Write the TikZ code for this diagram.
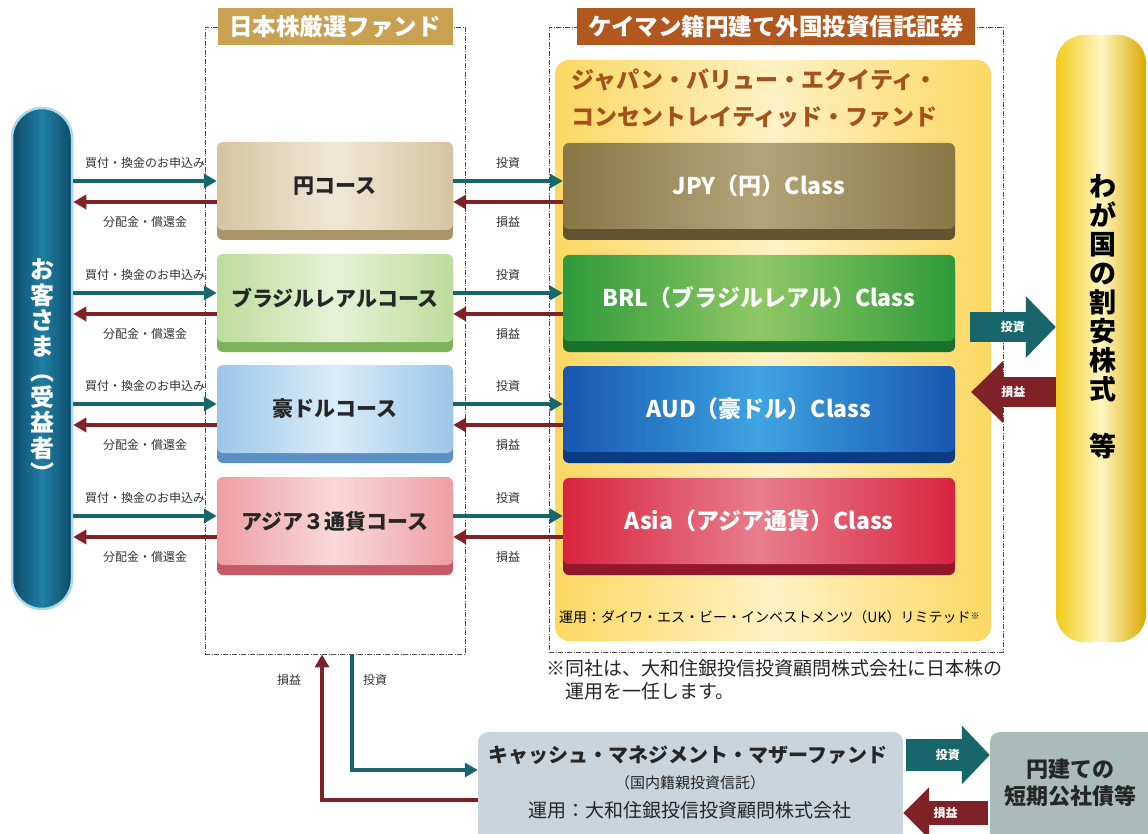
\documentclass[tikz,border=0pt]{standalone}
\usepackage{fontspec}
\setmainfont{Noto Sans CJK JP}
\usetikzlibrary{arrows.meta,shadows}
\definecolor{toushi}{HTML}{17666C}
\definecolor{soneki}{HTML}{7E2227}
\definecolor{tagGold}{HTML}{C8A152}
\definecolor{tagBrown}{HTML}{B2581F}
\definecolor{titleBrown}{HTML}{A4521C}
\definecolor{panelEdge}{HTML}{FCD862}
\definecolor{panelMid}{HTML}{FEF1C4}
\definecolor{custEdge}{HTML}{0E4A6B}
\definecolor{custMid}{HTML}{1F7FA3}
\definecolor{custRim}{HTML}{A9D8EA}
\definecolor{wagaLeft}{HTML}{F2CC1A}
\definecolor{wagaMid}{HTML}{FFF6C0}
\definecolor{wagaRight}{HTML}{D9A800}
\definecolor{cashFill}{HTML}{C9D4DC}
\definecolor{bondFill}{HTML}{A9BCB7}
\definecolor{c1a}{HTML}{D5C4A0}\definecolor{c1b}{HTML}{F0E8D6}\definecolor{c1c}{HTML}{A89466}
\definecolor{c2a}{HTML}{BCDD9C}\definecolor{c2b}{HTML}{E6F2D6}\definecolor{c2c}{HTML}{7DB35A}
\definecolor{c3a}{HTML}{9CC6E8}\definecolor{c3b}{HTML}{DAEDF9}\definecolor{c3c}{HTML}{5A8FC4}
\definecolor{c4a}{HTML}{EE9EA3}\definecolor{c4b}{HTML}{F9D9DA}\definecolor{c4c}{HTML}{C45A65}
\definecolor{k1a}{HTML}{8A7748}\definecolor{k1b}{HTML}{B3A477}\definecolor{k1c}{HTML}{625331}
\definecolor{k2a}{HTML}{2E9A3A}\definecolor{k2b}{HTML}{8FC865}\definecolor{k2c}{HTML}{19712A}
\definecolor{k3a}{HTML}{1757B0}\definecolor{k3b}{HTML}{3FA4E2}\definecolor{k3c}{HTML}{0B3B85}
\definecolor{k4a}{HTML}{D8243F}\definecolor{k4b}{HTML}{E87E8C}\definecolor{k4c}{HTML}{93182C}
\newcommand{\jfs}[2]{\fontsize{#1}{#2}\selectfont}
\tikzset{
  fundline/.style={draw=black!70, line width=0.9pt, dash pattern=on 5pt off 1.5pt on 1pt off 1.5pt},
  tagbox/.style={text=white, font=\bfseries\jfs{23.5}{23.5}, minimum height=37pt, inner sep=0pt},
  coursebox/.style={rounded corners=6pt, minimum width=236pt, minimum height=88pt,
    left color=#1a, right color=#1a, middle color=#1b, text=black!85,
    drop shadow={shadow xshift=0pt, shadow yshift=-10pt, opacity=1, fill=#1c},
    font=\bfseries\jfs{21}{21}},
  classbox/.style={rounded corners=6pt, minimum width=392pt, minimum height=86pt,
    left color=#1a, right color=#1a, middle color=#1b, text=white,
    drop shadow={shadow xshift=0pt, shadow yshift=-11pt, opacity=1, fill=#1c},
    font=\bfseries\jfs{23}{23}},
}
\begin{document}
\begin{tikzpicture}[x=1pt, y=-1pt,
  inarr/.style={draw=toushi, line width=4.5pt, -{Triangle[length=13pt,width=14pt]}},
  outarr/.style={draw=soneki, line width=4.5pt, -{Triangle[length=13pt,width=14pt]}},
  fatarr/.style n args={4}{draw=#1, line width=#2, -{Triangle[length=#3,width=#4]}},
  smalllab/.style={font=\jfs{12}{12}, text=black!80, inner sep=0pt},
  fatlab/.style={font=\bfseries\jfs{12}{12}, text=white, inner sep=0pt}]
\fill[white] (0,0) rectangle (1148,834);
\useasboundingbox (0,0) rectangle (1148,834);

\node[fundline, minimum width=260pt, minimum height=627pt] (jf) at (335,340.5) {};
\node[fundline, minimum width=454pt, minimum height=625pt] (cay) at (776,339.5) {};
\node[tagbox, fill=tagGold, minimum width=235pt] (jftag) at (jf.north) {日本株厳選ファンド};
\node[tagbox, fill=tagBrown, minimum width=398pt] (caytag) at (cay.north) {ケイマン籍円建て外国投資信託証券};

\node[rounded corners=14pt, minimum width=436pt, minimum height=581pt,
  left color=panelEdge, right color=panelEdge, middle color=panelMid] (jvp) at (773,350.5) {};
\node[anchor=west, align=left, text=titleBrown, font=\bfseries\jfs{23}{37}] (jvptitle) at (568,98)
  {ジャパン・バリュー・エクイティ・\\コンセントレイティッド・ファンド};
\node[anchor=west, font=\jfs{14}{14}, inner sep=0pt] (unyo) at (559,617)
  {運用：ダイワ・エス・ビー・インベストメンツ（UK）リミテッド\raisebox{3pt}{\jfs{9}{9}※}};
\node[anchor=north west, align=left, font=\jfs{19}{23}, text=black!85, inner sep=0pt] (note) at (546,659)
  {※同社は、大和住銀投信投資顧問株式会社に日本株の\\\phantom{※}運用を一任します。};

\node[rounded corners=30pt, minimum width=60pt, minimum height=501pt, draw=custRim, line width=2.5pt,
  left color=custEdge, right color=custEdge, middle color=custMid] (cust) at (42,358.5) {};
\node[text=white, align=center, font=\bfseries\jfs{24}{25.5}] (custtxt) at (42,371) {お\\客\\さ\\ま\\︵\\受\\益\\者\\︶};

\node[rounded corners=28pt, minimum width=90pt, minimum height=607pt,
  left color=wagaLeft, right color=wagaRight, middle color=wagaMid] (waga) at (1101,338.5) {};
\node[align=center, font=\bfseries\jfs{27}{28.9}] (wagatxt) at (1103,317) {わ\\が\\国\\の\\割\\安\\株\\式\\　\\等};

\foreach \i/\yy/\ctext/\ktext in {1/186/円コース/JPY（円）Class, 2/298/ブラジルレアルコース/BRL（ブラジルレアル）Class,
  3/409/豪ドルコース/AUD（豪ドル）Class, 4/521/アジア３通貨コース/Asia（アジア通貨）Class}{
  \node[coursebox=c\i] (c\i) at (335,\yy) {\ctext};
  \node[classbox=k\i] (k\i) at (759,\yy) {\ktext};
  \coordinate (ci\i) at ([yshift=5pt]c\i.west);
  \coordinate (co\i) at ([yshift=-16pt]c\i.west);
  \coordinate (ki\i) at ([yshift=5pt]c\i.east);
  \coordinate (ko\i) at ([yshift=-16pt]c\i.east);
  \draw[inarr] (cust.east |- ci\i) -- (ci\i) node[smalllab, midway, yshift=18pt] {買付・換金のお申込み};
  \draw[outarr] (co\i) -- (cust.east |- co\i) node[smalllab, midway, yshift=-20pt] {分配金・償還金};
  \draw[inarr] (ki\i) -- (k\i.west |- ki\i) node[smalllab, midway, yshift=18pt] {投資};
  \draw[outarr] (k\i.west |- ko\i) -- (ko\i) node[smalllab, midway, yshift=-20pt] {損益};
}

\coordinate (wt) at (970,327);
\coordinate (wr) at (971,392);
\draw[fatarr={toushi}{30pt}{30pt}{60pt}] (wt) -- (waga.west |- wt) node[fatlab, midway] {投資};
\draw[fatarr={soneki}{30pt}{32pt}{60pt}] (waga.west |- wr) -- (wr) node[fatlab, midway] {損益};

\node[rounded corners=10pt, fill=cashFill, minimum width=425pt, minimum height=118pt] (cash) at (690.5,791) {};
\node[font=\bfseries\jfs{20}{20}, text=black!85] (cashA) at (688,755) {キャッシュ・マネジメント・マザーファンド};
\node[font=\jfs{15}{15}, text=black!85] (cashB) at (690,783) {（国内籍親投資信託）};
\node[font=\jfs{19}{19}, text=black!85] (cashC) at (690,810) {運用：大和住銀投信投資顧問株式会社};
\node[rounded corners=10pt, fill=bondFill, minimum width=180pt, minimum height=118pt] (bond) at (1080,791) {};
\node[align=center, font=\bfseries\jfs{22}{27}, text=black!85] (bondtxt) at (1070,783) {円建ての\\短期公社債等};

\coordinate (ct) at (906,755);
\coordinate (cr) at (988,813);
\draw[fatarr={toushi}{32pt}{28pt}{57pt}] (ct) -- (bond.west |- ct) node[fatlab, midway] {投資};
\draw[fatarr={soneki}{24pt}{26pt}{50pt}] (cr) -- (cash.east |- cr) node[fatlab, midway] {損益};

\draw[inarr] (jf.south -| 352,0) |- ([yshift=21pt]cash.west);
\draw[outarr] ([yshift=-9pt]cash.west) -| (jf.south -| 322,0);
\node[smalllab] (jfsoneki) at (289,680) {損益};
\node[smalllab] (jftoushi) at (375,680) {投資};
\end{tikzpicture}
\end{document}
